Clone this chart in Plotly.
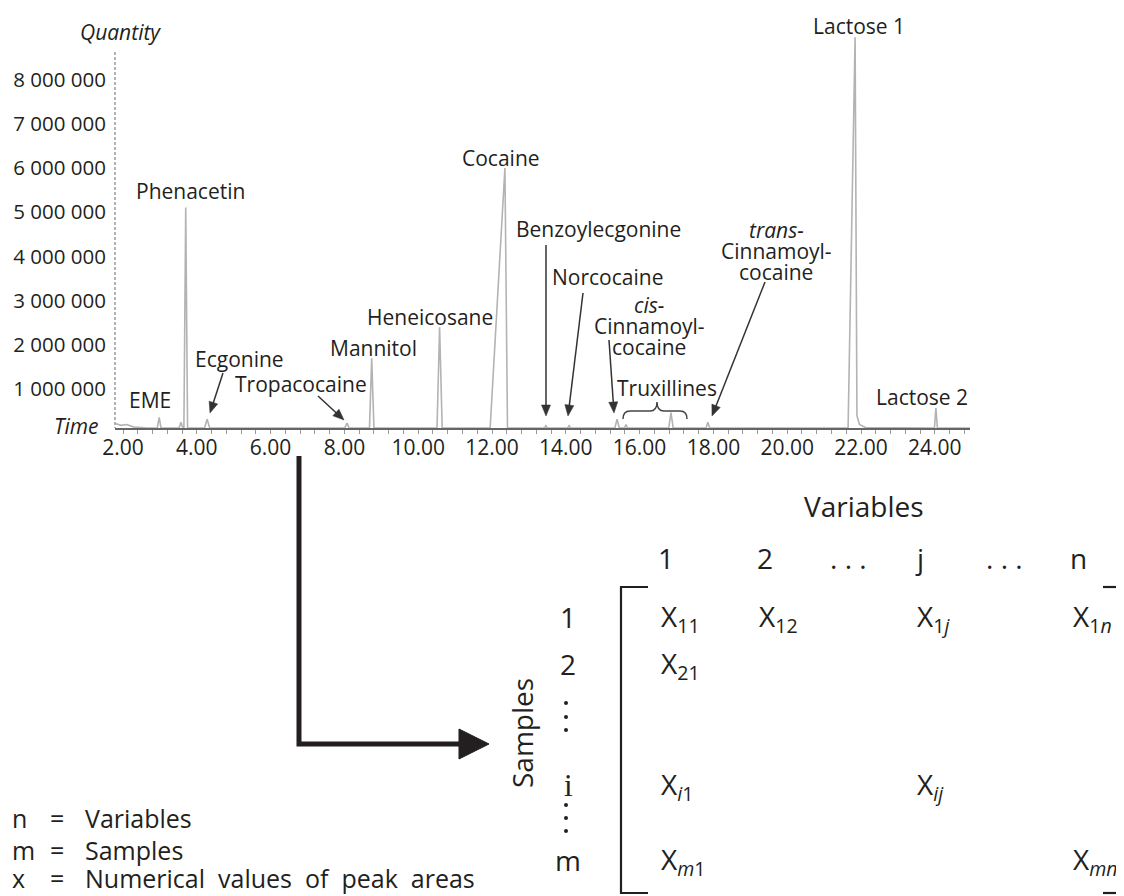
import math
import plotly.graph_objects as go

W, H = 1124, 896
OFF = 8                      # the page body adds an 8 px margin
FIG_W, FIG_H = W - OFF, H - OFF

# ---------------- chromatogram data ----------------
time_min = [1.79, 1.95, 2.10, 2.30, 2.60,
            2.93, 2.98, 3.03,
            3.52, 3.57, 3.62,
            3.65, 3.70, 3.75,
            4.21, 4.28, 4.35,
            8.01, 8.07, 8.13,
            8.68, 8.74, 8.80,
            10.51, 10.58, 10.65,
            11.95, 12.35, 12.42,
            13.42, 13.46, 13.50,
            14.05, 14.09, 14.13,
            15.33, 15.39, 15.45,
            15.59, 15.63, 15.67,
            16.79, 16.85, 16.91,
            17.80, 17.85, 17.90,
            21.65, 21.84, 21.89, 21.96, 22.12,
            23.99, 24.03, 24.07,
            24.95]
quantity = [220000, 180000, 200000, 140000, 125000,
            120000, 360000, 120000,
            120000, 250000, 120000,
            120000, 5110000, 120000,
            120000, 320000, 120000,
            120000, 230000, 120000,
            120000, 1700000, 120000,
            120000, 2400000, 120000,
            120000, 6000000, 120000,
            120000, 170000, 120000,
            120000, 170000, 120000,
            120000, 320000, 120000,
            120000, 200000, 120000,
            120000, 470000, 120000,
            120000, 250000, 120000,
            120000, 8960000, 400000, 200000, 130000,
            120000, 570000, 120000,
            120000]

y_tickvals = [1000000, 2000000, 3000000, 4000000, 5000000, 6000000, 7000000, 8000000]
y_ticktext = ["1 000 000", "2 000 000", "3 000 000", "4 000 000",
              "5 000 000", "6 000 000", "7 000 000", "8 000 000"]
x_tickvals = [2, 4, 6, 8, 10, 12, 14, 16, 18, 20, 22, 24]

peak_names = ["EME", "Phenacetin", "Ecgonine", "Tropacocaine", "Mannitol",
              "Heneicosane", "Cocaine", "Benzoylecgonine", "Norcocaine",
              "Truxillines", "Lactose 1", "Lactose 2"]

# matrix content
col_labels = ["1", "2", ". . .", "j", ". . .", "n"]
row_labels = ["1", "2", "i", "m"]
cell_text = ["X<sub>11</sub>", "X<sub>12</sub>", "X<sub>1<i>j</i></sub>", "X<sub>1<i>n</i></sub>",
             "X<sub>21</sub>",
             "X<sub><i>i</i>1</sub>", "X<sub><i>ij</i></sub>",
             "X<sub><i>m</i>1</sub>", "X<sub><i>mn</i></sub>"]
cell_row = [0, 0, 0, 0, 1, 2, 2, 3, 3]
cell_col = [0, 1, 3, 5, 0, 0, 3, 0, 5]

legend_keys = ["n", "m", "x"]
legend_desc = ["Variables", "Samples", "Numerical values of peak areas"]

# ---------------- layout helpers ----------------
TXT = "#231f20"
FONT = "Open Sans"
NB = "\u00a0"


def X(p):
    return (p - OFF) / FIG_W


def Y(p):
    return 1 - (p - OFF) / FIG_H


x_left_px, x_right_px = 115, 970
y_bot_px, y_top_px = 428, 20
px_per_min = 36.9
px_per_unit = 44.2e-6
t0 = 2 - (123 - x_left_px) / px_per_min
t1 = 2 + (x_right_px - 123) / px_per_min
q0 = 120000
q1 = q0 + (y_bot_px - y_top_px) / px_per_unit

fig = go.Figure()
fig.add_trace(go.Scatter(x=time_min, y=quantity, mode="lines",
                         line=dict(color="#b3b3b3", width=1.6),
                         hoverinfo="skip", showlegend=False))

annotations = []
shapes = []


def label(text, x, y, size=21, italic=False, xanchor="center", family=FONT, angle=0):
    if italic:
        text = "<i>" + text + "</i>"
    annotations.append(dict(text=text, x=X(x), y=Y(y), xref="paper", yref="paper",
                            xanchor=xanchor, yanchor="middle", showarrow=False,
                            textangle=angle,
                            font=dict(family=family, size=size, color=TXT)))


def poly(pts, closed=False):
    s = "M " + " L ".join("{:.5f},{:.5f}".format(X(a), Y(b)) for a, b in pts)
    return s + (" Z" if closed else "")


# axis titles
label("Quantity", 120, 32, italic=True)
label("Time", 101, 426, italic=True, xanchor="right")

# peak labels
name_pos = {"EME": (150, 400), "Phenacetin": (190, 191), "Ecgonine": (239, 359),
            "Tropacocaine": (301, 384), "Mannitol": (373, 348), "Heneicosane": (430, 317),
            "Cocaine": (501, 158), "Benzoylecgonine": (598, 229), "Norcocaine": (607, 277),
            "Truxillines": (667, 388), "Lactose 1": (859, 26), "Lactose 2": (922, 397)}
for n in peak_names:
    label(n, *name_pos[n])

# multi-line labels
label("cis-", 649, 305, italic=True)
label("Cinnamoyl-", 649, 326)
label("cocaine", 649, 347)
label("trans-", 776, 230, italic=True)
label("Cinnamoyl-", 776, 251)
label("cocaine", 776, 272)

# pointer arrows (tip, tail) drawn as line + filled head
arrows = [((210, 413), (223, 373)), ((344, 420), (318, 396)), ((546, 416), (546, 245)),
          ((568, 416), (583, 293)), ((614, 413), (609, 340)), ((712, 416), (765, 282))]
HEAD_L, HEAD_W = 11, 4.5
for (tx, ty), (sx, sy) in arrows:
    dx, dy = tx - sx, ty - sy
    ln = math.hypot(dx, dy)
    ux, uy = dx / ln, dy / ln
    bx, by = tx - ux * HEAD_L, ty - uy * HEAD_L
    nx, ny = -uy, ux
    shapes.append(dict(type="path", xref="paper", yref="paper",
                       path=poly([(sx, sy), (bx + ux, by + uy)]),
                       line=dict(color="#333333", width=1.5)))
    shapes.append(dict(type="path", xref="paper", yref="paper",
                       path=poly([(tx, ty), (bx + nx * HEAD_W, by + ny * HEAD_W),
                                  (bx - nx * HEAD_W, by - ny * HEAD_W)], closed=True),
                       fillcolor="#333333", line=dict(color="#333333", width=0.5)))

# Truxillines brace
brace = ("M {a},{b} Q {a},{c} {d},{c} L {e},{c} Q {f},{c} {f},{g} Q {f},{c} {h},{c} "
         "L {i},{c} Q {j},{c} {j},{b}").format(
    a=X(623), b=Y(419), c=Y(411), d=X(630), e=X(650), f=X(657), g=Y(402), h=X(664),
    i=X(680), j=X(687))
shapes.append(dict(type="path", path=brace, xref="paper", yref="paper",
                   line=dict(color="#444444", width=1.5)))

# dotted y axis line
shapes.append(dict(type="line", xref="paper", yref="paper", x0=X(115), x1=X(115),
                   y0=Y(52), y1=Y(428), line=dict(color="#9a9a9a", width=1.5, dash="3px,2px")))

# big connector arrow
shapes.append(dict(type="path", xref="paper", yref="paper",
                   path=poly([(299, 456), (299, 744), (462, 744)]),
                   line=dict(color=TXT, width=5)))
shapes.append(dict(type="path", xref="paper", yref="paper",
                   path=poly([(459, 729), (489, 744), (459, 759)], closed=True),
                   fillcolor=TXT, line=dict(color=TXT, width=1)))

# ---------------- matrix ----------------
label("Variables", 864, 506, size=28)
col_x = [666, 765, 848, 919, 1004, 1078]
for c, t in enumerate(col_labels):
    label(t, col_x[c], 558, size=28)

row_y = [617, 664, 785, 860]
for r, t in enumerate(row_labels):
    if t == "i":
        label(t, 568, row_y[r], size=31, family="Liberation Serif")
    else:
        label(t, 568, row_y[r], size=28)

label("Samples", 522, 733, size=28, angle=-90)

cell_x = [659, 757, None, 915, None, 1071]
for t, r, c in zip(cell_text, cell_row, cell_col):
    annotations.append(dict(text=t, x=X(cell_x[c]), y=Y(row_y[r] + 1), xref="paper", yref="paper",
                            xanchor="left", yanchor="middle", showarrow=False,
                            font=dict(family=FONT, size=28, color=TXT)))

for yy in (703, 717, 730, 805, 818, 831):
    shapes.append(dict(type="circle", xref="paper", yref="paper",
                       x0=X(564), x1=X(568), y0=Y(yy - 2), y1=Y(yy + 2),
                       fillcolor=TXT, line=dict(width=0)))

# brackets
shapes.append(dict(type="path", xref="paper", yref="paper",
                   path=poly([(648, 587), (621, 587), (621, 893), (648, 893)]),
                   line=dict(color=TXT, width=2.2)))
for yy in (587, 893):
    shapes.append(dict(type="path", xref="paper", yref="paper",
                       path=poly([(1103, yy), (1124, yy)]), line=dict(color=TXT, width=2.2)))

# ---------------- legend text ----------------
leg_y = [818, 850, 878]
for k, d, yy in zip(legend_keys, legend_desc, leg_y):
    label(k, 10, yy, size=25, xanchor="left")
    label("=", 57, yy, size=25)
    label(d.replace(" ", NB + " "), 83, yy, size=25, xanchor="left")

fig.update_layout(
    template="none",
    width=FIG_W, height=FIG_H, margin=dict(l=0, r=0, t=0, b=0, pad=0, autoexpand=False),
    paper_bgcolor="white", plot_bgcolor="white", showlegend=False,
    xaxis=dict(domain=[X(x_left_px), X(x_right_px)], range=[t0, t1], automargin=False,
               tickvals=x_tickvals, tickformat=".2f", ticks="outside", ticklen=4,
               tickcolor="#999999", showline=True, linecolor="#666666", linewidth=2,
               showgrid=False, zeroline=False, ticklabelstandoff=-4,
               minor=dict(dtick=0.4, tick0=2, ticks="outside", ticklen=4, tickcolor="#999999"),
               tickfont=dict(family=FONT, size=21, color=TXT)),
    yaxis=dict(domain=[Y(y_bot_px), Y(y_top_px)], range=[q0, q1], automargin=False,
               tickvals=y_tickvals, ticktext=y_ticktext, ticks="", showline=False,
               showgrid=False, zeroline=False, ticklabelstandoff=8,
               tickfont=dict(family=FONT, size=20.5, color=TXT)),
    annotations=annotations, shapes=shapes,
)

fig.write_html("out.html")
